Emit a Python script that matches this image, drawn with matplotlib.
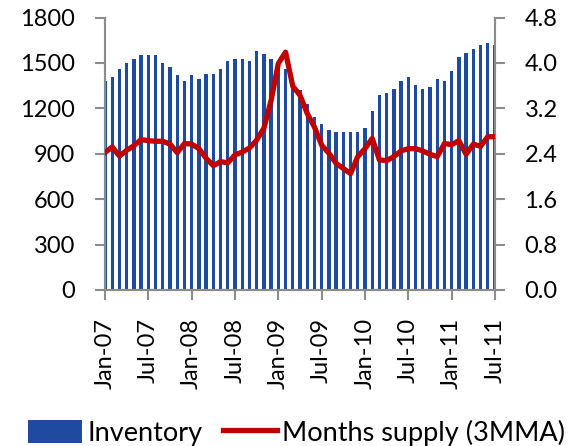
import matplotlib
matplotlib.use("Agg")
import matplotlib.pyplot as plt
from matplotlib.patches import Patch
from matplotlib.lines import Line2D
import numpy as np

plt.rcParams['font.family'] = ['Lato', 'DejaVu Sans']

months = ["Jan-07", "Jul-07", "Jan-08", "Jul-08", "Jan-09", "Jul-09",
          "Jan-10", "Jul-10", "Jan-11", "Jul-11"]

inventory = [1382, 1408, 1461, 1500, 1527, 1553, 1553, 1553, 1500, 1474,
             1421, 1382, 1421, 1397, 1424, 1424, 1463, 1514, 1527, 1527,
             1514, 1580, 1556, 1527, 1510, 1460, 1397, 1320, 1226, 1144,
             1094, 1054, 1041, 1041, 1041, 1041, 1067, 1184, 1289, 1303,
             1329, 1380, 1408, 1355, 1329, 1342, 1395, 1382, 1448, 1540,
             1566, 1593, 1619, 1632, 1619]

months_supply = [2.42, 2.52, 2.36, 2.46, 2.54, 2.65, 2.63, 2.62, 2.62, 2.57,
                 2.42, 2.58, 2.57, 2.49, 2.32, 2.19, 2.26, 2.24, 2.38, 2.43,
                 2.50, 2.64, 2.85, 3.34, 3.99, 4.19, 3.59, 3.43, 3.11, 2.87,
                 2.55, 2.41, 2.23, 2.14, 2.05, 2.35, 2.49, 2.67, 2.29, 2.28,
                 2.35, 2.45, 2.49, 2.49, 2.45, 2.39, 2.35, 2.58, 2.56, 2.63,
                 2.39, 2.57, 2.53, 2.70, 2.70]

left_ticks = [0, 300, 600, 900, 1200, 1500, 1800]
right_ticks = [0.0, 0.8, 1.6, 2.4, 3.2, 4.0, 4.8]

bar_color = '#1E4BA0'
line_color = '#C00000'
axis_color = '#8C8C8C'

fig = plt.figure(figsize=(5.69, 4.46), dpi=100)
ax = fig.add_axes([105/569, 1-290/446, (495-105)/569, (290-17.5)/446])
x = np.arange(len(inventory))
ax.bar(x, inventory, width=0.45, color=bar_color, zorder=2)
ax.set_xlim(0, len(inventory) - 1)
ax.set_ylim(0, 1800)
ax.set_yticks(left_ticks)
ax.set_yticklabels([str(v) for v in left_ticks])
ax.set_xticks(np.arange(0, len(inventory), 6))
ax.set_xticklabels(months, rotation=90)

ax2 = ax.twinx()
ax2.plot(x, months_supply, color=line_color, lw=3.8, solid_joinstyle='round', zorder=3)
ax2.set_ylim(0, 4.8)
ax2.set_yticks(right_ticks)
ax2.set_yticklabels([f"{v:.1f}" for v in right_ticks])

for a in (ax, ax2):
    a.spines['top'].set_visible(False)
    for s in ('left', 'right', 'bottom'):
        a.spines[s].set_color(axis_color)
        a.spines[s].set_linewidth(1.5)
    a.tick_params(colors=axis_color, width=1.5, length=7.2, labelsize=17,
                  labelcolor='black')
ax.tick_params(axis='x', pad=13)
ax.tick_params(axis='y', pad=14.5)
ax2.tick_params(axis='y', pad=14)

handles = [Patch(facecolor=bar_color, edgecolor='none'),
           Line2D([0], [0], color=line_color, lw=3.8)]
fig.legend(handles, ["Inventory", "Months supply (3MMA)"], loc='center',
           bbox_to_anchor=(0.521, 0.03), ncol=2, frameon=False, fontsize=19.5,
           handlelength=2.0, handleheight=0.9, handletextpad=0.2,
           columnspacing=0.75, borderpad=0, borderaxespad=0)

fig.savefig("out.png", dpi=100)
